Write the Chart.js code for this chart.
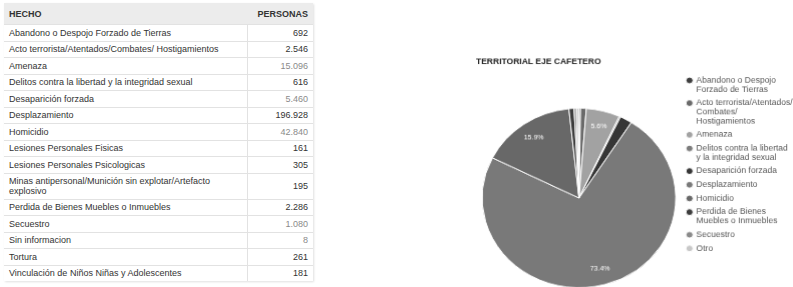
<!DOCTYPE html>
<html>
<head>
<meta charset="utf-8">
<script src="https://cdn.jsdelivr.net/npm/chart.js"></script>
<style>
html, body { margin: 0; padding: 0; width: 793px; height: 287px; overflow: hidden; background: #fff; }
#tabla {
  position: absolute; left: 4px; top: 3px; width: 309px;
  border-collapse: collapse; table-layout: fixed;
  font-family: "Liberation Sans", Arial, sans-serif; font-size: 9px; color: #333;
  box-shadow: 1px 1px 2px rgba(0,0,0,0.12);
}
#tabla th { background: #ececec; height: 21px; padding: 0 5px; font-weight: bold; text-align: left; color: #333; }
#tabla th.num { text-align: right; }
#tabla td { height: 15.5px; padding: 0 5px; border-top: 1px solid #e2e2e2; line-height: 10px; }
#tabla td.num { text-align: right; border-left: 1px solid #e2e2e2; }
#tabla .gris { color: #8a8a8a; }
#pieBox {
  position: absolute; left: 470px; top: 51.5px; width: 331.5px; height: 254px;
  transform: scaleY(0.93); transform-origin: 0 0;
}
</style>
</head>
<body>
<table id="tabla"></table>
<div id="pieBox"><canvas id="pie-chart"></canvas></div>
<script>
// tabla de hechos
var hechos = [
  "Abandono o Despojo Forzado de Tierras",
  "Acto terrorista/Atentados/Combates/ Hostigamientos",
  "Amenaza",
  "Delitos contra la libertad y la integridad sexual",
  "Desaparición forzada",
  "Desplazamiento",
  "Homicidio",
  "Lesiones Personales Fisicas",
  "Lesiones Personales Psicologicas",
  "Minas antipersonal/Munición sin explotar/Artefacto explosivo",
  "Perdida de Bienes Muebles o Inmuebles",
  "Secuestro",
  "Sin informacion",
  "Tortura",
  "Vinculación de Niños Niñas y Adolescentes",
];
var personas = ["692", "2.546", "15.096", "616", "5.460", "196.928", "42.840", "161", "305", "195", "2.286", "1.080", "8", "261", "181"];
var numerosGrises = [2, 4, 6, 11, 12];

// torta
var tituloTorta = "TERRITORIAL EJE CAFETERO";
var nombresTorta = [
  ["Abandono o Despojo", "Forzado de Tierras"],
  ["Acto terrorista/Atentados/", "Combates/", "Hostigamientos"],
  ["Amenaza"],
  ["Delitos contra la libertad", "y la integridad sexual"],
  ["Desaparición forzada"],
  ["Desplazamiento"],
  ["Homicidio"],
  ["Perdida de Bienes", "Muebles o Inmuebles"],
  ["Secuestro"],
  ["Otro"],
];
var valoresTorta = [692, 2546, 15096, 616, 5460, 196928, 42840, 2286, 1080, 1111];
var porcentajes = ["", "", "5.6%", "", "", "73.4%", "15.9%", "", "", ""];
var colores = ["#3e3e3e", "#6a6a6a", "#a2a2a2", "#7c7c7c", "#363636", "#797979", "#686868", "#3c3c3c", "#8a8a8a", "#c8c8c8"];

var tabla = document.getElementById("tabla");
var html = '<tr><th style="width:233px">HECHO</th><th class="num">PERSONAS</th></tr>';
hechos.forEach(function (h, i) {
  var alto = i === 9 ? ' style="height:25px"' : '';
  var clase = numerosGrises.indexOf(i) >= 0 ? 'num gris' : 'num';
  html += '<tr><td' + alto + '>' + h + '</td><td class="' + clase + '">' + personas[i] + '</td></tr>';
});
tabla.innerHTML = html;

var etiquetas = {
  id: "etiquetas",
  afterDatasetsDraw: function (chart) {
    var ctx = chart.ctx;
    var meta = chart.getDatasetMeta(0);
    ctx.save();
    ctx.font = '7px "Liberation Sans", Arial, sans-serif';
    ctx.fillStyle = "#fff";
    ctx.textAlign = "center";
    ctx.textBaseline = "middle";
    meta.data.forEach(function (arc, i) {
      if (!porcentajes[i]) return;
      var p = arc.getProps(["x", "y", "startAngle", "endAngle", "outerRadius"]);
      var a = (p.startAngle + p.endAngle) / 2;
      var r = p.outerRadius * 0.82;
      ctx.fillText(porcentajes[i], p.x + Math.cos(a) * r, p.y + Math.sin(a) * r);
    });
    ctx.restore();
  },
};

var ctx = document.getElementById("pie-chart");
var myPieChart = new Chart(ctx, {
  type: "pie",
  data: {
    labels: nombresTorta,
    datasets: [
      {
        data: valoresTorta,
        backgroundColor: colores,
        borderColor: "#fff",
        borderWidth: 1,
      },
    ],
  },
  plugins: [etiquetas],
  options: {
    responsive: true,
    maintainAspectRatio: false,
    animation: false,
    layout: { padding: { left: 6, right: 0, top: 0, bottom: 0 } },
    plugins: {
      tooltip: { enabled: false },
      title: {
        display: true,
        text: tituloTorta,
        align: "start",
        color: "#222",
        font: { family: "Liberation Sans", size: 8.5, weight: "bold" },
        padding: { top: 6, bottom: 43.8 },
      },
      legend: {
        position: "right",
        align: "start",
        title: { display: true, text: "", padding: { top: 12.3, bottom: 0 }, font: { size: 7.5 } },
        labels: {
          usePointStyle: true,
          pointStyle: "circle",
          boxWidth: 5,
          boxHeight: 5,
          padding: 5,
          color: "#555",
          font: { family: "Liberation Sans", size: 8.5, lineHeight: 1.14 },
        },
      },
    },
  },
});
</script>
</body>
</html>
